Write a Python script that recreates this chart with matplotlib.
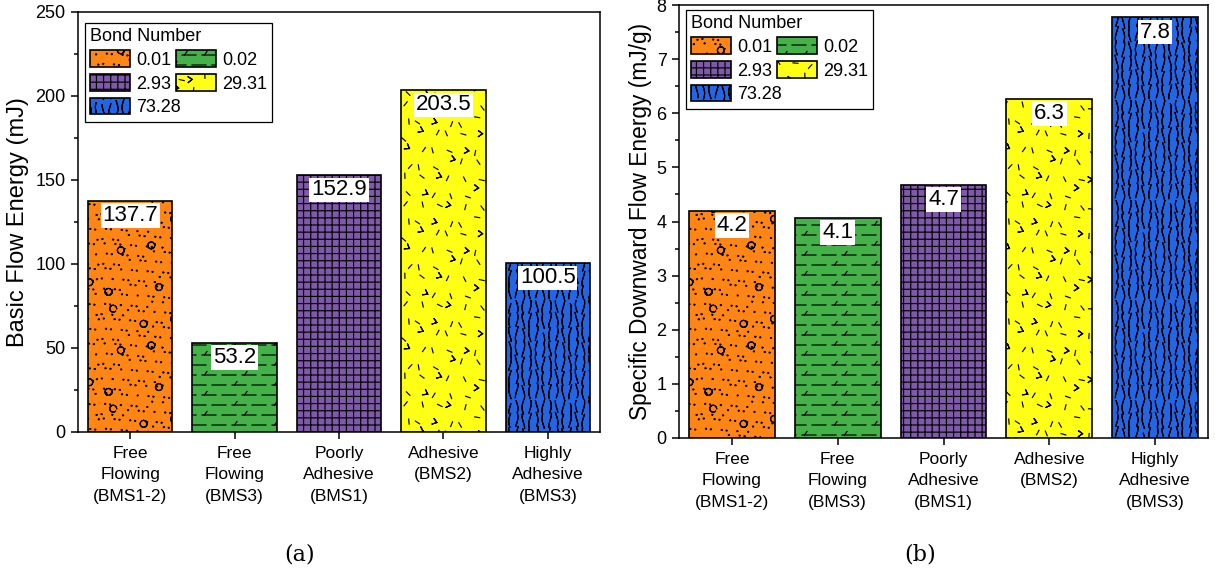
import warnings
warnings.filterwarnings("ignore")
import numpy as np
import matplotlib
matplotlib.use("Agg")
import matplotlib.pyplot as plt
import matplotlib.hatch as mhatch
from matplotlib.path import Path

# ---------------- data ----------------
categories = ["Free\nFlowing\n(BMS1-2)", "Free\nFlowing\n(BMS3)", "Poorly\nAdhesive\n(BMS1)",
              "Adhesive\n(BMS2)", "Highly\nAdhesive\n(BMS3)"]
bond_numbers = ["0.01", "0.02", "2.93", "29.31", "73.28"]
bfe_values = [137.7, 53.2, 152.9, 203.5, 100.5]          # Basic Flow Energy (mJ)
sdfe_values = [4.2, 4.07, 4.68, 6.27, 7.77]               # Specific Downward Flow Energy (mJ/g)

colors = ["#FF8514", "#44B248", "#805AAA", "#FFFF16", "#2266E6"]
hatches = ["pc", "d", "g", "k", "w"]

# ---------------- custom hatch patterns (decoration only) ----------------
def _frac(x):
    return x - np.floor(x)

def _there_and_back(pts):
    pts = list(pts)
    return pts + pts[-2::-1]

def _build_patterns():
    pats = {}
    # wavy vertical strokes
    w = []
    ncol, nrow = 15, 7
    for c in range(ncol):
        xc = (c + 0.5) / ncol
        for r in range(nrow):
            y0 = r / nrow + 0.004 + 0.01 * (c % 3)
            ys = np.linspace(y0, y0 + 0.12, 7)
            ph = _frac(c * 0.37 + r * 0.23)
            xs = xc + 0.013 * np.sin(2 * np.pi * ((ys - y0) * 4 + ph))
            w.append(_there_and_back(zip(xs, ys)))
    pats["w"] = w
    # random-looking ticks
    k = []
    n = 7
    for i in range(n):
        for j in range(n):
            idx = i * n + j + 1
            cx = (i + 0.5 + 0.6 * (_frac(idx * 0.618034) - 0.5)) / n
            cy = (j + 0.5 + 0.6 * (_frac(idx * 0.414214) - 0.5)) / n
            th = np.pi * _frac(idx * 0.754878)
            L = 0.05
            dx, dy = 0.5 * L * np.cos(th), 0.5 * L * np.sin(th)
            if idx % 4 == 0:
                p0 = (cx - dx, cy - dy)
                ap = (cx + dx, cy + dy)
                th2 = th + 1.9
                p2 = (ap[0] + 0.6 * L * np.cos(th2), ap[1] + 0.6 * L * np.sin(th2))
                k.append(_there_and_back([p0, ap, p2]))
            else:
                k.append([(cx - dx, cy - dy), (cx + dx, cy + dy)])
    pats["k"] = k
    # dots
    p = []
    n = 12
    ang = np.linspace(0, 2 * np.pi, 7)
    for i in range(n):
        for j in range(n):
            idx = i * n + j + 3
            cx = (i + 0.5 + 0.7 * (_frac(idx * 0.618034) - 0.5)) / n
            cy = (j + 0.5 + 0.7 * (_frac(idx * 0.324718) - 0.5)) / n
            p.append(list(zip(cx + 0.005 * np.cos(ang), cy + 0.005 * np.sin(ang))))
    pats["p"] = p
    # sparse open circles
    cc = []
    n = 3
    ang = np.linspace(0, 2 * np.pi, 13)
    for i in range(n):
        for j in range(n):
            idx = i * n + j + 5
            cx = (i + 0.5 + 0.6 * (_frac(idx * 0.618034) - 0.5)) / n
            cy = (j + 0.5 + 0.6 * (_frac(idx * 0.414214) - 0.5)) / n
            cc.append(_there_and_back(zip(cx + 0.035 * np.cos(ang), cy + 0.035 * np.sin(ang))))
    pats["c"] = cc
    # dashed lines with small slashes
    d = []
    for r in range(10):
        y = (r + 0.5) / 10
        off = 0.1 * (r % 2)
        for m in range(5):
            xs = off + 0.2 * m
            a, b = xs + 0.02, xs + 0.16
            if b > 1.0:
                d.append([(a, y), (1.0, y)])
                d.append([(0.0, y), (b - 1.0, y)])
            else:
                d.append([(a, y), (b, y)])
            if (r + m) % 2 == 0:
                d.append([(xs + 0.045, y), (xs + 0.07, y + 0.035)])
    pats["d"] = d
    # fine grid
    g = []
    n = 14
    for i in range(n):
        t = (i + 0.5) / n
        g.append([(t, 0.0), (t, 1.0)])
        g.append([(0.0, t), (1.0, t)])
    pats["g"] = g
    return pats

CUSTOM = _build_patterns()

class CustomHatch(mhatch.HatchPatternBase):
    def __init__(self, hatch, density):
        self.polys = []
        for ch, polys in CUSTOM.items():
            if ch in hatch:
                self.polys.extend(polys)
        self.num_vertices = sum(len(p) for p in self.polys)

    def set_vertices_and_codes(self, vertices, codes):
        i = 0
        for p in self.polys:
            kk = len(p)
            vertices[i:i + kk] = np.asarray(p)
            codes[i] = Path.MOVETO
            codes[i + 1:i + kk] = Path.LINETO
            i += kk

mhatch._hatch_types.append(CustomHatch)

# ---------------- style ----------------
plt.rcParams["font.family"] = ["Liberation Sans", "DejaVu Sans"]
plt.rcParams["hatch.linewidth"] = 0.85
plt.rcParams["axes.linewidth"] = 1.1

fig = plt.figure(figsize=(12.15, 5.76), dpi=100)
ax1 = fig.add_axes([78 / 1215, 1 - 432 / 576, (600 - 78) / 1215, (432 - 12) / 576])
ax2 = fig.add_axes([679 / 1215, 1 - 438 / 576, (1208 - 679) / 1215, (438 - 5) / 576])

x = np.arange(len(categories))

def draw(ax, values, ylim, major, minor, ylabel, ylabel_size, label_x, leg_anchor):
    bars = ax.bar(x, values, width=0.81, color=colors, edgecolor="black",
                  linewidth=1.2, hatch=hatches, label=bond_numbers, zorder=2)
    for rect, v in zip(bars, values):
        ax.annotate(f"{v:.1f}", xy=(rect.get_x() + rect.get_width() / 2, rect.get_height()),
                    xytext=(0, -3), textcoords="offset points", ha="center", va="top",
                    fontsize=16, zorder=5,
                    bbox=dict(boxstyle="square,pad=0.08", fc="white", ec="none"))
    ax.set_xlim(-0.5, len(categories) - 0.5)
    ax.set_ylim(*ylim)
    ax.set_yticks(np.arange(ylim[0], ylim[1] + major / 2, major))
    ax.set_yticks(np.arange(ylim[0], ylim[1] + minor / 2, minor), minor=True)
    ax.set_xticks(x)
    ax.set_xticklabels(categories, fontsize=12.5, linespacing=1.55)
    ax.tick_params(axis="x", direction="out", length=5, width=1.1, pad=5)
    ax.tick_params(axis="y", which="major", direction="out", length=5, width=1.1,
                   pad=4, labelsize=13)
    ax.tick_params(axis="y", which="minor", direction="out", length=3, width=1.1)
    ax.set_ylabel(ylabel, fontsize=ylabel_size)
    ax.yaxis.set_label_coords(label_x, 0.5)
    order = [0, 2, 4, 1, 3]
    handles = [bars[i] for i in order]
    labels = [bond_numbers[i] for i in order]
    leg = ax.legend(handles, labels, title="Bond Number", ncol=2, loc="upper left",
                    bbox_to_anchor=leg_anchor, borderaxespad=0, fontsize=13,
                    title_fontsize=13, alignment="left", fancybox=False,
                    edgecolor="black", framealpha=1, handlelength=2.2, handleheight=1.05,
                    handletextpad=0.35, columnspacing=-0.3, labelspacing=0.28,
                    borderpad=0.3)
    leg.get_frame().set_linewidth(0.9)
    leg.set_zorder(10)

draw(ax1, bfe_values, (0, 250), 50, 25, "Basic Flow Energy (mJ)", 17,
     (29 - 78) / 522, (7 / 522, 1 - 11 / 420))
draw(ax2, sdfe_values, (0, 8), 1, 0.5, "Specific Downward Flow Energy (mJ/g)", 16.4,
     (652 - 679) / 529, (7 / 529, 1 - 5 / 433))

fig.text(300 / 1215, 1 - 555 / 576, "(a)", ha="center", va="center",
         fontsize=16, family="DejaVu Serif")
fig.text(920 / 1215, 1 - 555 / 576, "(b)", ha="center", va="center",
         fontsize=16, family="DejaVu Serif")

fig.savefig("out.png", dpi=100)
